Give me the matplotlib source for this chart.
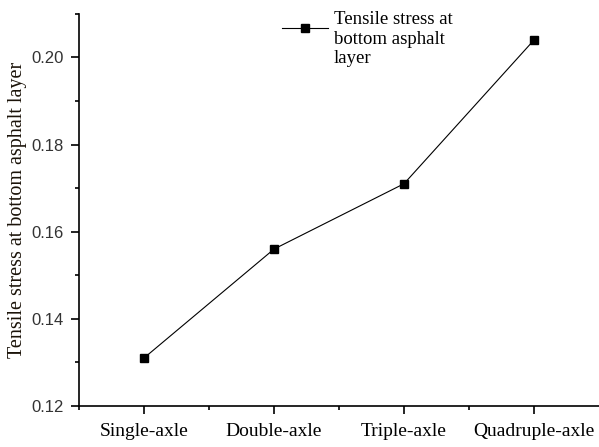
import matplotlib
matplotlib.use("Agg")
import matplotlib.pyplot as plt
from matplotlib.ticker import MultipleLocator, FixedLocator

# data
axles = ["Single-axle", "Double-axle", "Triple-axle", "Quadruple-axle"]
stress = [0.131, 0.156, 0.171, 0.204]
series_name = "Tensile stress at\nbottom asphalt\nlayer"

fig = plt.figure(figsize=(5.99, 4.47), dpi=100)
ax = fig.add_axes([0.132, 0.092, 0.868, 0.877])

xs = range(len(axles))
ax.plot(xs, stress, color="black", lw=0.8, marker="s", ms=6, label=series_name)

ax.set_xlim(-0.5, 3.5)
ax.set_ylim(0.12, 0.21)
ax.yaxis.set_minor_locator(MultipleLocator(0.01))
ax.set_yticks([0.12, 0.14, 0.16, 0.18, 0.20])
ax.set_yticklabels(["0.12", "0.14", "0.16", "0.18", "0.20"],
                   fontfamily="Liberation Sans", fontsize=12, color="#333333")
ax.set_xticks(list(xs))
ax.set_xticklabels(axles, fontfamily="Liberation Serif", fontsize=14)
ax.xaxis.set_minor_locator(FixedLocator([-0.5, 0.5, 1.5, 2.5]))
ax.tick_params(which="major", direction="out", length=6, width=1.2)
ax.tick_params(which="minor", direction="out", length=3, width=1.2)
ax.tick_params(axis="x", pad=6)
ax.tick_params(axis="y", pad=5)

for side in ("top", "right"):
    ax.spines[side].set_visible(False)
for side in ("left", "bottom"):
    ax.spines[side].set_linewidth(1.2)

ax.set_ylabel("Tensile stress at bottom asphalt layer",
              fontfamily="Liberation Serif", fontsize=14.5, labelpad=3,
              color="#1a1208")

leg = ax.legend(loc="upper left", bbox_to_anchor=(0.357, 1.05), frameon=False,
                prop={"family": "Liberation Serif", "size": 13.5},
                handlelength=2.5, handletextpad=0.3, labelspacing=0.2)
# lift the legend sample up towards the first line of text, as in the original
h = leg.legend_handles[0]
h.set_ydata([y + 8 for y in h.get_ydata()])

fig.savefig("out.png", dpi=100)
